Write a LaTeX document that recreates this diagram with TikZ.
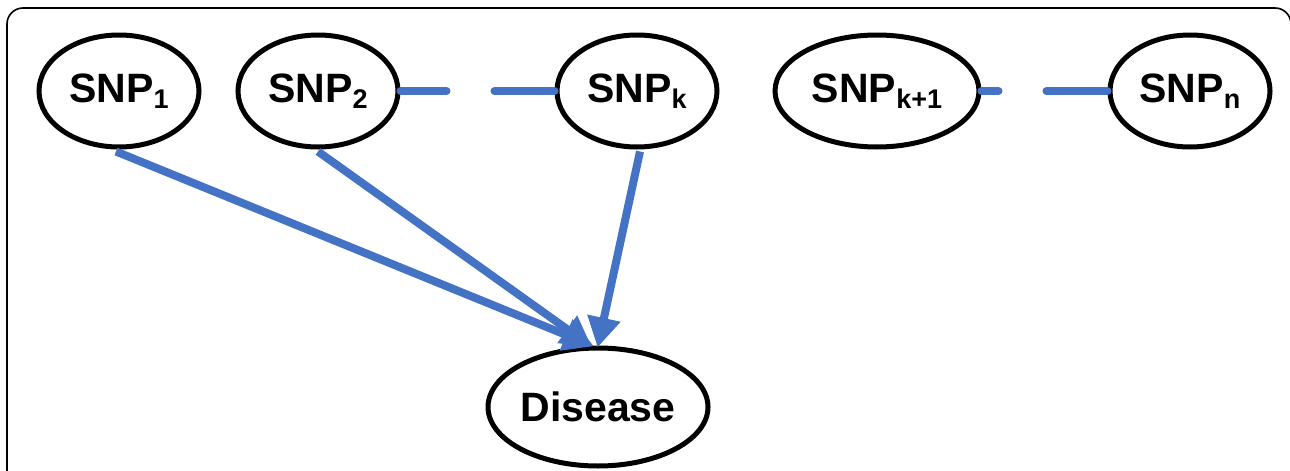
\documentclass[tikz,border=0pt]{standalone}
\usepackage{fontspec}
\setmainfont{Liberation Sans}
\usetikzlibrary{arrows.meta,shapes.geometric}
\definecolor{lineblue}{RGB}{68,114,196}
\newcommand{\snpsub}[1]{\raisebox{-6pt}{\fontsize{27}{27}\selectfont #1}}
\tikzset{
  snpnode/.style={ellipse, draw=black, line width=5pt, minimum width=160pt, minimum height=112pt, inner sep=0pt, font=\fontsize{41}{41}\selectfont\bfseries},
  dznode/.style={ellipse, draw=black, line width=5pt, minimum width=220pt, minimum height=118pt, inner sep=0pt, font=\fontsize{41}{41}\selectfont\bfseries},
  bluelink/.style={draw=lineblue, line width=8pt, line cap=round},
  bluearrow/.style={draw=lineblue, line width=8pt, -{Triangle[length=30pt,width=32pt]}, shorten >=-2pt},
  frame/.style={draw=black, line width=1.6pt, rounded corners=16pt}
}
\begin{document}
\begin{tikzpicture}[x=1pt,y=-1pt]
\useasboundingbox (0,0) rectangle (1290,471);
\begin{scope}
\clip (0,0) rectangle (1290,471);
\draw[frame] (7,490) -- (7,8) -- (1291,8) -- (1291,490);
\end{scope}
\node[snpnode] (s1) at (119,91) {SNP\snpsub{1}};
\node[snpnode] (s2) at (318,91) {SNP\snpsub{2}};
\node[snpnode] (sk) at (637,91) {SNP\snpsub{k}};
\node[snpnode, minimum width=204pt] (sk1) at (877,91) {SNP\snpsub{k+1}};
\node[snpnode] (sn) at (1190,91) {SNP\snpsub{n}};
\node[dznode] (dz) at (598,407) {Disease};
\path[bluelink, dash pattern=on 46pt off 48pt on 300pt] (s2.east) -- (sk.west);
\path[bluelink, dash pattern=on 17pt off 48pt on 300pt] (sk1.east) -- (sn.west);
\path[bluearrow] ([xshift=-3pt,yshift=-2pt]s1.south) -- ([xshift=-6pt]dz.north);
\path[bluearrow] ([yshift=-2pt]s2.south) -- ([xshift=-8pt]dz.north);
\path[bluearrow] ([xshift=3pt,yshift=-2pt]sk.south) -- (dz.north);
\end{tikzpicture}
\end{document}
